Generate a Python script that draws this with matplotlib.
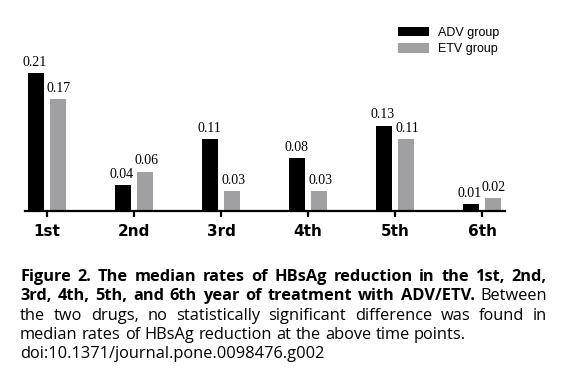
import matplotlib
matplotlib.use("Agg")
import matplotlib.pyplot as plt
import numpy as np

# Data
years = ['1st', '2nd', '3rd', '4th', '5th', '6th']
adv = [0.21, 0.04, 0.11, 0.08, 0.13, 0.01]
etv = [0.17, 0.06, 0.03, 0.03, 0.11, 0.02]
adv_labels = ['0.21', '0.04', '0.11', '0.08', '0.13', '0.01']
etv_labels = ['0.17', '0.06', '0.03', '0.03', '0.11', '0.02']

# Caption: (word, bold) per line, and whether the line is justified
caption_lines = [
    ([(w, True) for w in "Figure 2. The median rates of HBsAg reduction in the 1st, 2nd,".split()], True),
    ([(w, True) for w in "3rd, 4th, 5th, and 6th year of treatment with ADV/ETV.".split()] + [("Between", False)], True),
    ([(w, False) for w in "the two drugs, no statistically significant difference was found in".split()], True),
    ([(w, False) for w in "median rates of HBsAg reduction at the above time points.".split()], False),
    ([(w, False) for w in "doi:10.1371/journal.pone.0098476.g002".split()], False),
]

W, H = 566, 376
fig = plt.figure(figsize=(W / 100, H / 100), dpi=100)

# axes in pixel layout: baseline at y=211, x from 25 to 505
ax = fig.add_axes([25 / W, (H - 211) / H, 480 / W, (211 - 20) / H])

x = np.arange(len(years))
bw = 0.185
off = 0.122
ax.bar(x - off, adv, bw, color='black', label='ADV group')
ax.bar(x + off, etv, bw, color='#a0a0a2', label='ETV group')

for xi, v, s in zip(x, adv, adv_labels):
    ax.annotate(s, (xi - off, v), xytext=(-1, 3), textcoords='offset points',
                ha='center', va='bottom', fontsize=10, family='Liberation Serif')
for xi, v, s in zip(x, etv, etv_labels):
    ax.annotate(s, (xi + off, v), xytext=(1, 3), textcoords='offset points',
                ha='center', va='bottom', fontsize=10, family='Liberation Serif')

ax.set_xlim(-0.253, 5.264)
ax.set_ylim(0, 191 / 657)
for side in ['left', 'right', 'top']:
    ax.spines[side].set_visible(False)
ax.spines['bottom'].set_linewidth(1.6)
ax.set_yticks([])
ax.set_xticks(x)
ax.set_xticklabels(years, fontsize=11, fontweight='bold', family='DejaVu Sans')
ax.tick_params(axis='x', length=4, width=1.6, pad=5)

leg = ax.legend(loc='upper left', bbox_to_anchor=(389 / W, 1 - 18 / H),
                bbox_transform=fig.transFigure, frameon=False,
                prop={'family': 'Liberation Sans', 'size': 9},
                handlelength=2.5, handleheight=0.8, handletextpad=0.7,
                labelspacing=0.35, borderpad=0.2)

# justified caption
renderer = fig.canvas.get_renderer()
left, right = 20, 547
baselines = [281, 300, 319.5, 339, 358]
fs = 11.8
for (words, justify), yb in zip(caption_lines, baselines):
    texts = []
    widths = []
    for w, b in words:
        t = fig.text(0, 0, w, fontsize=fs, family='Open Sans',
                     fontweight='bold' if b else 'normal', va='baseline')
        widths.append(t.get_window_extent(renderer).width)
        texts.append(t)
    sp = fig.text(0, 0, 'a a', fontsize=fs, family='Open Sans')
    sa = fig.text(0, 0, 'aa', fontsize=fs, family='Open Sans')
    space = sp.get_window_extent(renderer).width - sa.get_window_extent(renderer).width
    sp.remove()
    sa.remove()
    if justify and len(words) > 1:
        gap = (right - left - sum(widths)) / (len(words) - 1)
    else:
        gap = space
    xp = left
    for t, wd in zip(texts, widths):
        t.set_position((xp / W, 1 - yb / H))
        xp += wd + gap

fig.savefig('out.png', dpi=100)
